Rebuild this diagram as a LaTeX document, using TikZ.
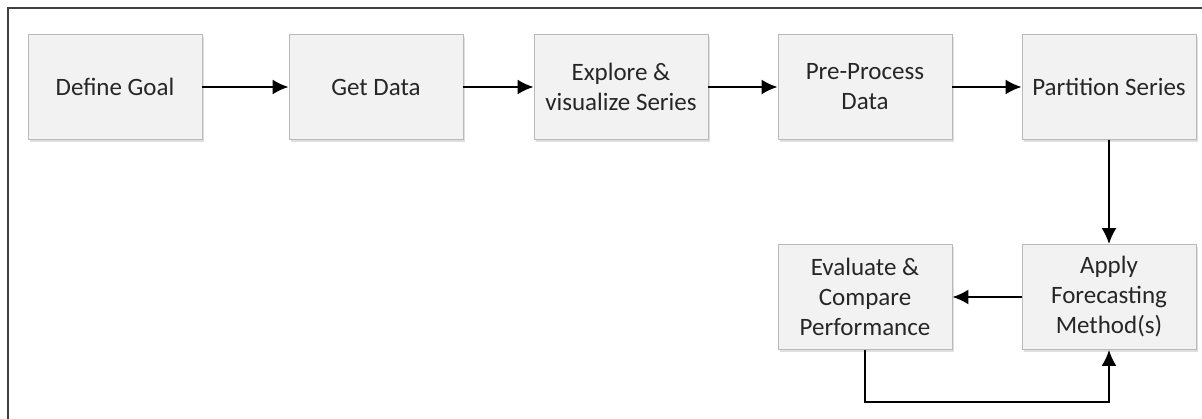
\documentclass[tikz,border=0pt]{standalone}
\usepackage{fontspec}
\setmainfont{Carlito}
\usetikzlibrary{shadows}
\usetikzlibrary{arrows.meta}

\begin{document}
\begin{tikzpicture}[x=1pt,y=-1pt,
	block/.style={draw=gray!55,fill=gray!10,line width=0.8pt,minimum width=174pt,minimum height=105pt,align=center,text=black!85,
		drop shadow={opacity=0.25,shadow xshift=2pt,shadow yshift=-2.5pt}},
	flow/.style={-{Latex[length=16pt,width=15pt]},line width=2.2pt},
	font=\fontsize{25}{30}\selectfont]
	\useasboundingbox (0,0) rectangle (1202,419);
	\draw[line width=2pt,black!75] (8,430) -- (8,8) -- (1215,8);
	\draw (115,87) node[block] (G) {Define Goal}
	(376,87) node[block] (D) {Get Data}
	(621,87) node[block] (X) {Explore \&\\visualize Series}
	(865,87) node[block] (PP) {Pre-Process\\Data}
	(1109,87) node[block] (PS) {Partition Series};
	\draw (865,297) node[block] (E) {Evaluate \&\\Compare\\Performance}
	(1109,297) node[block] (A) {Apply\\Forecasting\\Method(s)};
	\draw[flow] (G) -- (D); \draw[flow] (D) -- (X);
	\draw[flow] (X) -- (PP); \draw[flow] (PP) -- (PS);
	\draw[flow] (PS) -- (A); \draw[flow] (A) -- (E);
	\draw[flow] (E.south) -- ++(0,52) -| (A.south);
\end{tikzpicture}
\end{document}
